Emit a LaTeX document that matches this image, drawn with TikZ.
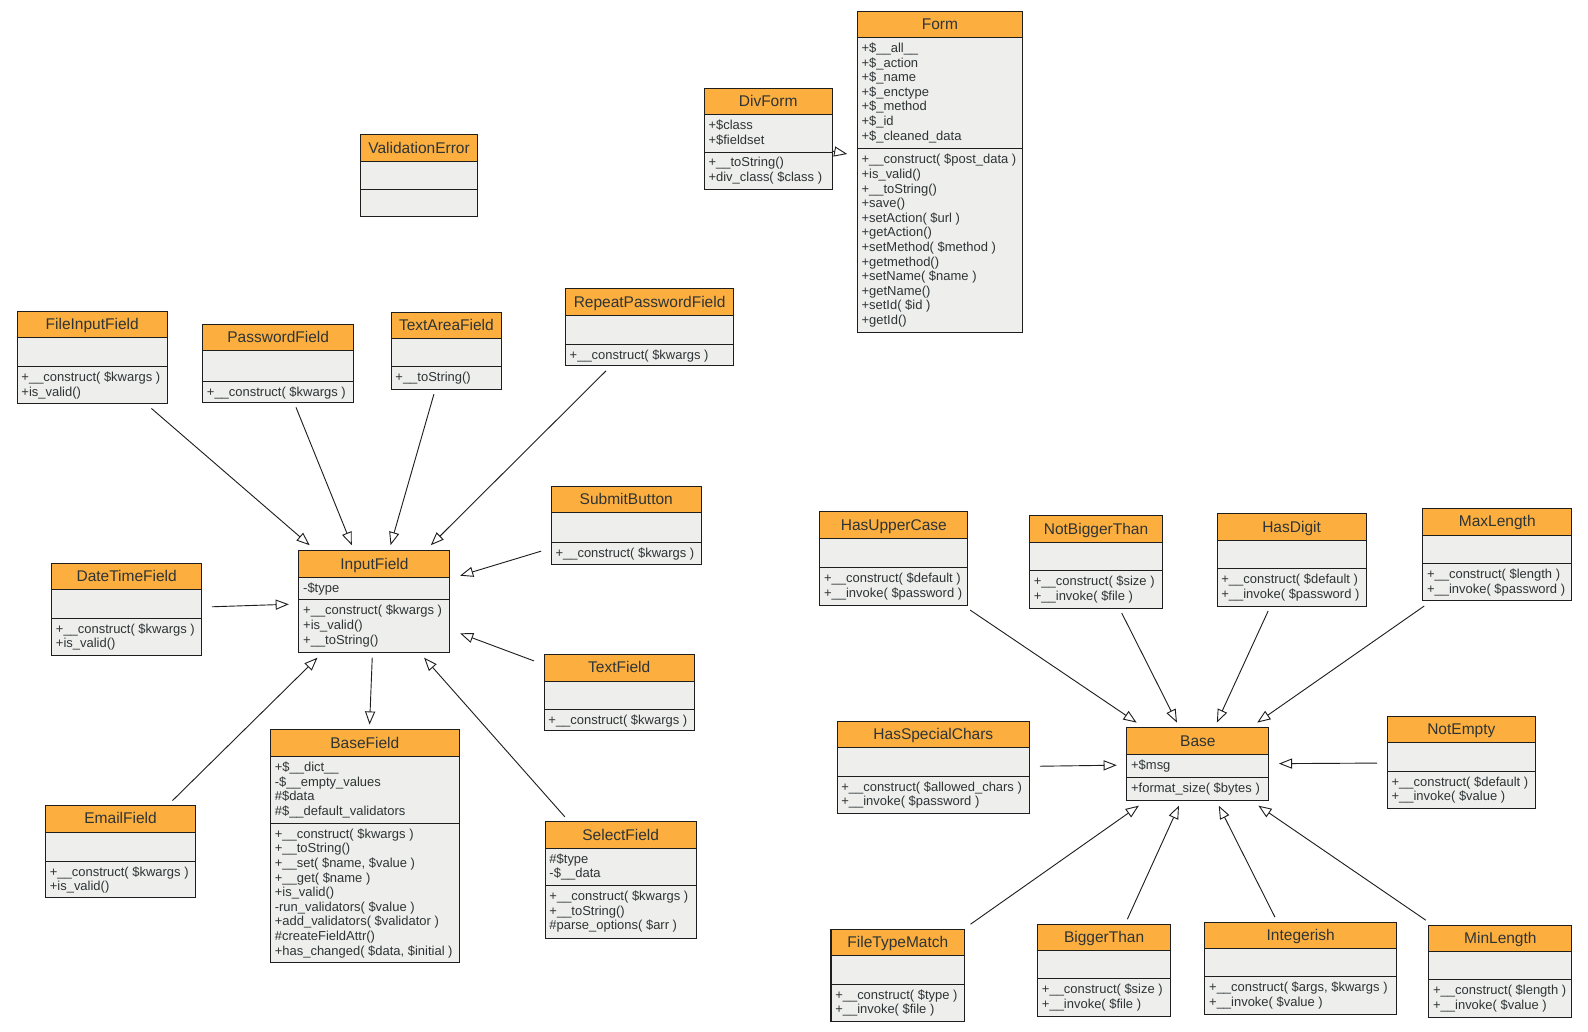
\documentclass[tikz,border=0pt]{standalone}
\usepackage{fontspec}
\setmainfont{Liberation Sans}
\usetikzlibrary{arrows.meta,calc}
\definecolor{hdr}{HTML}{FCAF3E}
\definecolor{bodyc}{HTML}{EEEEEC}
\definecolor{ink}{HTML}{1E1E1E}
\definecolor{txt}{HTML}{2E3436}
\newcommand\memfont{\fontsize{12.8}{14.4}\selectfont}
\newcommand\hdrfont{\fontsize{15.3}{18}\selectfont}
\def\umlgeom#1,#2,#3,#4,#5,#6\relax{\def\ux{#1}\def\uxx{#2}\def\ut{#3}\def\uh{#4}\def\ua{#5}\def\ub{#6}}
\newcommand\umlclass[5]{%
  \umlgeom#2\relax
  \pgfmathsetmacro\uw{\uxx-\ux}\pgfmathsetmacro\uhh{\ub-\ut}%
  \pgfmathsetmacro\ucx{(\ux+\uxx)/2}\pgfmathsetmacro\ucy{-(\ut+\ub)/2}%
  \fill[hdr] (\ux,-\ut) rectangle (\uxx,-\uh);
  \fill[bodyc] (\ux,-\uh) rectangle (\uxx,-\ub);
  \draw[secline] (\ux,-\uh) -- (\uxx,-\uh) (\ux,-\ua) -- (\uxx,-\ua);
  \node[classbox, minimum width=\uw pt, minimum height=\uhh pt] (#1) at (\ucx,\ucy) {};
  \node[titletext] (#1-name) at (\ucx,-\uh+8) {#3};
  \node[membertext] (#1-attr) at (\ux+4,-\uh-4.5) {\strut#4};
  \node[membertext] (#1-meth) at (\ux+4,-\ua-4.5) {\strut#5};
}
\tikzset{
  classbox/.style={draw=ink, line width=1pt, inner sep=0pt, outer xsep=10pt, outer ysep=5pt},
  secline/.style={draw=ink, line width=1pt},
  titletext/.style={anchor=base, inner sep=0pt, font=\hdrfont, text=txt},
  membertext/.style={anchor=north west, inner sep=0pt, align=left, font=\memfont, text=txt},
  inh/.style={draw=ink, line width=0.9pt, -{Triangle[open, length=13pt, width=10pt]}}
}
\begin{document}
\begin{tikzpicture}[x=1pt, y=1pt]
\useasboundingbox (0,0) rectangle (1567,-1017.4);
\fill[white] (0,0) rectangle (1567,-1017.4);

\umlclass{form}{846,1009,11,37,147,328}{Form}
 {+\$\_\_all\_\_\\+\$\_action\\+\$\_name\\+\$\_enctype\\+\$\_method\\+\$\_id\\+\$\_cleaned\_data}
 {+\_\_construct( \$post\_data )\\+is\_valid()\\+\_\_toString()\\+save()\\+setAction( \$url )\\+getAction()\\+setMethod( \$method )\\+getmethod()\\+setName( \$name )\\+getName()\\+setId( \$id )\\+getId()}
\umlclass{divform}{695,821,87,113,150,187}{DivForm}
 {+\$class\\+\$fieldset}
 {+\_\_toString()\\+div\_class( \$class )}
\umlclass{validationerror}{356,471,133,159,187,214}{ValidationError}{}{}

\umlclass{fileinput}{17,165,307,333,362,398}{FileInputField}{}
 {+\_\_construct( \$kwargs )\\+is\_valid()}
\umlclass{password}{200,349,320,346,376,397}{PasswordField}{}
 {+\_\_construct( \$kwargs )}
\umlclass{textarea}{386,495,308,334,362,384}{TextAreaField}{}
 {+\_\_toString()}
\umlclass{repeatpw}{558,724,285,311,340,361}{RepeatPasswordField}{}
 {+\_\_construct( \$kwargs )}
\umlclass{submit}{544,692,480,506,535,557}{SubmitButton}{}
 {+\_\_construct( \$kwargs )}
\umlclass{inputfield}{295,444,543,570,592,644}{InputField}
 {-\$type}
 {+\_\_construct( \$kwargs )\\+is\_valid()\\+\_\_toString()}
\umlclass{datetime}{51,199,556,582,610,647}{DateTimeField}{}
 {+\_\_construct( \$kwargs )\\+is\_valid()}
\umlclass{textfield}{537,685,646,672,700,721}{TextField}{}
 {+\_\_construct( \$kwargs )}
\umlclass{basefield}{267,453,720,746.6,812.4,950}{BaseField}
 {+\$\_\_dict\_\_\\-\$\_\_empty\_values\\\#\$data\\\#\$\_\_default\_validators}
 {+\_\_construct( \$kwargs )\\+\_\_toString()\\+\_\_set( \$name, \$value )\\+\_\_get( \$name )\\+is\_valid()\\-run\_validators( \$value )\\+add\_validators( \$validator )\\\#createFieldAttr()\\+has\_changed( \$data, \$initial )}
\umlclass{email}{45,193,795,821,850,886}{EmailField}{}
 {+\_\_construct( \$kwargs )\\+is\_valid()}
\umlclass{select}{538,687,811,837,874,926}{SelectField}
 {\#\$type\\-\$\_\_data}
 {+\_\_construct( \$kwargs )\\+\_\_toString()\\\#parse\_options( \$arr )}

\umlclass{hasupper}{809,955,505,531,560,597}{HasUpperCase}{}
 {+\_\_construct( \$default )\\+\_\_invoke( \$password )}
\umlclass{notbigger}{1016,1147,509,535,563,600}{NotBiggerThan}{}
 {+\_\_construct( \$size )\\+\_\_invoke( \$file )}
\umlclass{hasdigit}{1201,1348,507,533,561,598}{HasDigit}{}
 {+\_\_construct( \$default )\\+\_\_invoke( \$password )}
\umlclass{maxlength}{1404,1551,502,528,556,593}{MaxLength}{}
 {+\_\_construct( \$length )\\+\_\_invoke( \$password )}
\umlclass{hasspecial}{826,1016,712,738,766,803}{HasSpecialChars}{}
 {+\_\_construct( \$allowed\_chars )\\+\_\_invoke( \$password )}
\umlclass{base}{1112,1252,718,745,767,790}{Base}
 {+\$msg}
 {+format\_size( \$bytes )}
\umlclass{notempty}{1369,1515,707,733,761,798}{NotEmpty}{}
 {+\_\_construct( \$default )\\+\_\_invoke( \$value )}
\umlclass{filetype}{820,952,917,943,971,1008}{FileTypeMatch}{}
 {+\_\_construct( \$type )\\+\_\_invoke( \$file )}
\umlclass{bigger}{1024,1155,912,938,966,1003}{BiggerThan}{}
 {+\_\_construct( \$size )\\+\_\_invoke( \$file )}
\umlclass{integerish}{1189,1378,910,936,964,1001}{Integerish}{}
 {+\_\_construct( \$args, \$kwargs )\\+\_\_invoke( \$value )}
\umlclass{minlength}{1410,1551,913,939,967,1004}{MinLength}{}
 {+\_\_construct( \$length )\\+\_\_invoke( \$value )}

\coordinate (dftail) at ($(divform.center)!0.3717!(form.center)$);
\coordinate (dftip) at ($(divform.center)!0.4602!(form.center)$);
\draw[inh] (dftail) -- (dftip);
\foreach \c in {fileinput,password,textarea,repeatpw,submit,datetime,textfield,email,select}
  \draw[inh] (\c) -- (inputfield);
\draw[inh] (inputfield) -- (basefield);
\foreach \c in {hasupper,notbigger,hasdigit,maxlength,hasspecial,notempty,filetype,bigger,integerish,minlength}
  \draw[inh] (\c) -- (base);
\end{tikzpicture}
\end{document}
